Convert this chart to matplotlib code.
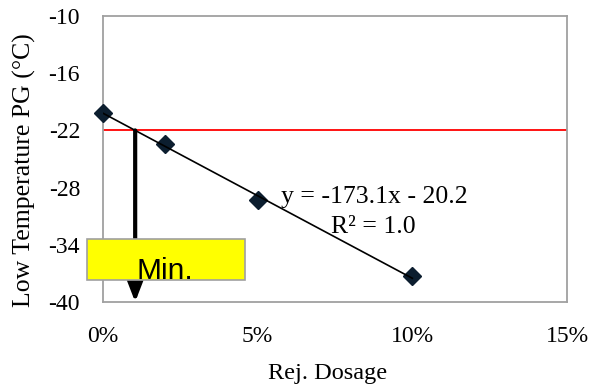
import numpy as np
import matplotlib
matplotlib.use("Agg")
import matplotlib.pyplot as plt
from matplotlib.patches import Rectangle
from matplotlib.ticker import FuncFormatter

# Measured low temperature PG versus rejuvenator dosage
dosage = [0.0, 0.02, 0.05, 0.10]
low_temp = [-20.2, -23.4, -29.3, -37.3]

# Linear trendline reported on the chart
slope = -173.1
intercept = -20.2
r_squared = 1.0

# Required low-temperature grade limit
threshold = -22.0

x_ticks = [0.0, 0.05, 0.10, 0.15]
y_ticks = [-40, -34, -28, -22, -16, -10]

serif = ["Liberation Serif", "DejaVu Serif"]
plt.rcParams["font.family"] = serif

fig = plt.figure(figsize=(5.91, 3.87), dpi=100)
ax = fig.add_axes([0.1743, 0.2196, 0.7851, 0.7391])

ax.set_xlim(0, 0.15)
ax.set_ylim(-40, -10)
ax.set_xticks(x_ticks)
ax.set_yticks(y_ticks)
ax.xaxis.set_major_formatter(FuncFormatter(lambda v, p: f"{v * 100:.0f}%"))
ax.yaxis.set_major_formatter(FuncFormatter(lambda v, p: f"{v:.0f}"))
ax.tick_params(axis="both", length=0, labelsize=17)
ax.tick_params(axis="y", pad=16.5)
ax.tick_params(axis="x", pad=17.5)

for sp in ax.spines.values():
    sp.set_color("#a0a0a0")
    sp.set_linewidth(1.3)

# Threshold line
ax.plot([0, 0.15], [threshold, threshold], color="#ff0000", lw=1.3, zorder=2)

# Data points and trendline
ax.plot(dosage, low_temp, linestyle="none", marker="D", ms=9.2,
        color="#0c1e2f", clip_on=False, zorder=3)
x_fit = np.array([dosage[0], dosage[-1]])
ax.plot(x_fit, slope * x_fit + intercept, color="black", lw=1.2, zorder=4)

# Minimum dosage arrow from the threshold crossing
x_min = (threshold - intercept) / slope
ax.annotate("", xy=(x_min, -40), xytext=(x_min, threshold),
            arrowprops=dict(arrowstyle="-|>,head_length=1.3,head_width=0.5",
                            lw=3, color="black", shrinkA=0, shrinkB=0),
            zorder=5)

# Label box
box = Rectangle((-0.0345, 0.0769), 0.3405, 0.1434, transform=ax.transAxes,
                facecolor="#ffff00", edgecolor="#a0a0a0", lw=1.2,
                clip_on=False, zorder=6)
ax.add_patch(box)
t = ax.text(0.1325, 0.079, "Min.", transform=ax.transAxes, ha="center",
            va="baseline", fontsize=21.5,
            family=["Liberation Sans", "DejaVu Sans"], zorder=7)
t.set_clip_path(box)

# Trendline equation
ax.text(0.0876, -28.99, f"y = {slope:.1f}x - {abs(intercept):.1f}",
        ha="center", va="center", fontsize=18.5, zorder=7)
ax.text(0.0874, -32.13, f"R² = {r_squared:.1f}",
        ha="center", va="center", fontsize=18.5, zorder=7)

ax.set_xlabel("Rej. Dosage", fontsize=17.5, va="center")
ax.xaxis.set_label_coords(0.484, -0.25)
ax.set_ylabel("Low Temperature PG (°C)", fontsize=18.5, va="center")
ax.yaxis.set_label_coords(-0.170, 0.46)

fig.savefig("out.png", dpi=100)
